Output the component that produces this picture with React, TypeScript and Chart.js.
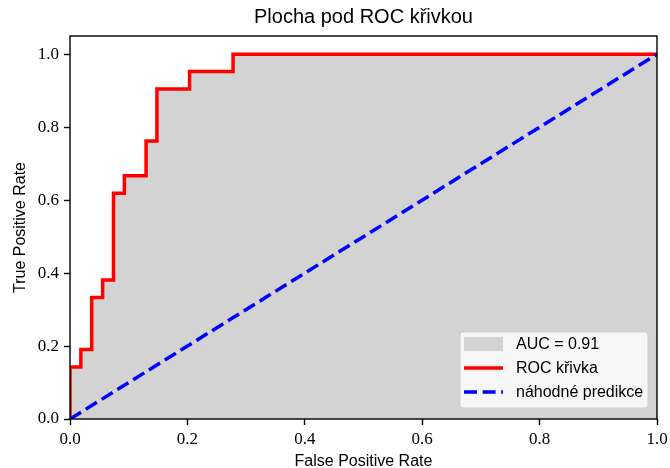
import React, { useEffect, useRef } from 'react';
import { Chart, registerables } from 'chart.js';

Chart.register(...registerables);

const TITLE = 'Plocha pod ROC křivkou';
const X_LABEL = 'False Positive Rate';
const Y_LABEL = 'True Positive Rate';
const LEGEND_LABELS = ['AUC = 0.91', 'ROC křivka', 'náhodné predikce'];

// ROC curve corner points (false positive rate, true positive rate)
const fpr = [0, 0, 0.0185, 0.0185, 0.037, 0.037, 0.0556, 0.0556, 0.0741, 0.0741, 0.0926, 0.0926, 0.1296, 0.1296, 0.1481, 0.1481, 0.2037, 0.2037, 0.2778, 0.2778, 1];
const tpr = [0, 0.1429, 0.1429, 0.1905, 0.1905, 0.3333, 0.3333, 0.381, 0.381, 0.619, 0.619, 0.6667, 0.6667, 0.7619, 0.7619, 0.9048, 0.9048, 0.9524, 0.9524, 1, 1];

// random-guess diagonal
const diagX = [0, 1];
const diagY = [0, 1];

const X_TICKS = [0, 0.2, 0.4, 0.6, 0.8, 1.0];
const Y_TICKS = [0, 0.2, 0.4, 0.6, 0.8, 1.0];

const SANS = '"Liberation Sans", "DejaVu Sans", sans-serif';
const SERIF = '"Liberation Serif", "DejaVu Serif", serif';

const framePlugin = {
  id: 'frame',
  afterDatasetsDraw(chart: any) {
    const { ctx, chartArea } = chart;
    ctx.save();
    ctx.strokeStyle = '#000';
    ctx.lineWidth = 1.4;
    ctx.strokeRect(chartArea.left, chartArea.top, chartArea.right - chartArea.left, chartArea.bottom - chartArea.top);
    ctx.restore();
  },
};

const legendPlugin = {
  id: 'boxLegend',
  afterDraw(chart: any) {
    const { ctx, chartArea } = chart;
    const w = 188;
    const h = 76;
    const x = chartArea.right - 9 - w;
    const y = chartArea.bottom - 11 - h;
    ctx.save();
    ctx.beginPath();
    ctx.roundRect(x, y, w, h, 3);
    ctx.fillStyle = 'rgba(255,255,255,0.8)';
    ctx.fill();
    ctx.strokeStyle = 'rgba(204,204,204,0.8)';
    ctx.lineWidth = 1.2;
    ctx.stroke();
    const rowH = 24;
    const firstY = y + 12;
    const handleX = x + 4;
    const handleW = 39;
    ctx.font = `16px ${SANS}`;
    ctx.textBaseline = 'middle';
    ctx.textAlign = 'left';
    chart.data.datasets.forEach((ds: any, i: number) => {
      const ry = firstY + i * rowH;
      if (ds.fill) {
        ctx.fillStyle = ds.backgroundColor;
        ctx.fillRect(handleX, ry - 7, handleW, 14);
      } else {
        ctx.beginPath();
        ctx.setLineDash(ds.borderDash || []);
        ctx.strokeStyle = ds.borderColor;
        ctx.lineWidth = ds.borderWidth;
        ctx.moveTo(handleX, ry);
        ctx.lineTo(handleX + handleW, ry);
        ctx.stroke();
        ctx.setLineDash([]);
      }
      ctx.fillStyle = '#000';
      ctx.fillText(ds.label, x + 56, ry + 1);
    });
    ctx.restore();
  },
};

export default function App() {
  const ref = useRef<HTMLCanvasElement>(null);
  useEffect(() => {
    document.body.style.margin = '0';
    const roc = fpr.map((v, i) => ({ x: v, y: tpr[i] }));
    const diag = diagX.map((v, i) => ({ x: v, y: diagY[i] }));
    const chart = new Chart(ref.current as HTMLCanvasElement, {
      type: 'line',
      data: {
        datasets: [
          {
            label: LEGEND_LABELS[0],
            data: roc,
            fill: 'origin',
            backgroundColor: '#d3d3d3',
            borderWidth: 0,
            borderColor: 'rgba(0,0,0,0)',
            pointRadius: 0,
            order: 10,
          },
          {
            label: LEGEND_LABELS[1],
            data: roc,
            fill: false,
            borderColor: '#ff0000',
            borderWidth: 3.5,
            pointRadius: 0,
            order: 1,
          },
          {
            label: LEGEND_LABELS[2],
            data: diag,
            fill: false,
            borderColor: '#0000ff',
            borderWidth: 3.5,
            borderDash: [13, 5.6],
            pointRadius: 0,
            order: 0,
          },
        ],
      } as any,
      options: {
        animation: false,
        responsive: false,
        devicePixelRatio: 1,
        layout: { padding: { left: 0, right: 13, top: 0, bottom: 0 } },
        plugins: {
          legend: { display: false },
          tooltip: { enabled: false },
          title: {
            display: true,
            fullSize: false,
            text: TITLE,
            color: '#000',
            font: { family: SANS, size: 20, weight: 'normal' },
            padding: { top: 5, bottom: 7 },
          },
        },
        scales: {
          x: {
            type: 'linear',
            min: 0,
            max: 1,
            afterBuildTicks: (s: any) => {
              s.ticks = X_TICKS.map((v) => ({ value: v }));
            },
            afterFit: (s: any) => {
              s.height = 49;
              s.paddingLeft = 0;
              s.paddingRight = 0;
            },
            ticks: {
              callback: (v: any) => Number(v).toFixed(1),
              font: { family: SERIF, size: 17 },
              color: '#000',
              padding: 4,
              maxRotation: 0,
              autoSkip: false,
            },
            grid: { drawOnChartArea: false, drawTicks: true, tickLength: 6, tickColor: '#000', tickWidth: 1.4 },
            border: { display: false },
            title: {
              display: true,
              text: X_LABEL,
              color: '#000',
              font: { family: SANS, size: 16 },
              padding: { top: 0, bottom: -3 },
            },
          },
          y: {
            type: 'linear',
            min: 0,
            max: 1.05,
            afterBuildTicks: (s: any) => {
              s.ticks = Y_TICKS.map((v) => ({ value: v }));
            },
            afterFit: (s: any) => {
              s.width = 70;
              s.paddingTop = 0;
              s.paddingBottom = 0;
            },
            ticks: {
              callback: (v: any) => Number(v).toFixed(1),
              font: { family: SERIF, size: 17 },
              color: '#000',
              padding: 5,
              autoSkip: false,
            },
            grid: { drawOnChartArea: false, drawTicks: true, tickLength: 6, tickColor: '#000', tickWidth: 1.4 },
            border: { display: false },
            title: {
              display: true,
              text: Y_LABEL,
              color: '#000',
              font: { family: SANS, size: 16 },
              padding: { top: 11, bottom: 0 },
            },
          },
        },
      } as any,
      plugins: [framePlugin, legendPlugin],
    });
    return () => chart.destroy();
  }, []);
  return (
    <div style={{ position: 'absolute', left: 0, top: 0, width: 670, height: 468 }}>
      <canvas ref={ref} width={670} height={468} />
    </div>
  );
}
